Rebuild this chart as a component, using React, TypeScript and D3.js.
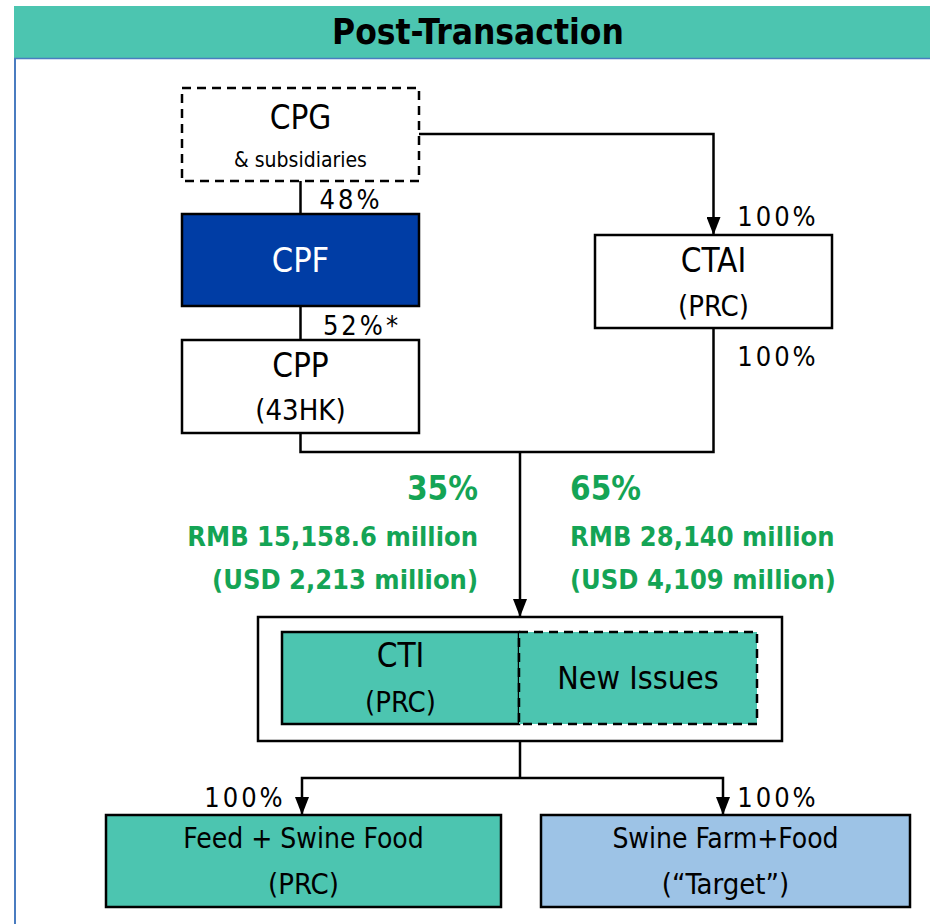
import React, { useEffect, useRef } from 'react';
import * as d3 from 'd3';

// entities (id, main label, sub label)
const boxIds = ['cpg', 'cpf', 'cpp', 'ctai', 'cti', 'newIssues', 'feed', 'target'];
const boxLabels = ['CPG', 'CPF', 'CPP', 'CTAI', 'CTI', 'New Issues', 'Feed + Swine Food', 'Swine Farm+Food'];
const boxSubLabels = ['& subsidiaries', '', '(43HK)', '(PRC)', '(PRC)', '', '(PRC)', '(\u201cTarget\u201d)'];

// ownership percentages
const stakeLabels = ['48%', '52%*', '100%', '100%', '100%', '100%'];

// consideration split
const splitShares = ['35%', '65%'];
const splitRmb = ['RMB 15,158.6 million', 'RMB 28,140 million'];
const splitUsd = ['(USD 2,213 million)', '(USD 4,109 million)'];

const title = 'Post-Transaction';

const FONT = '"DejaVu Sans Condensed", "DejaVu Sans", sans-serif';
const TEAL = '#4cc5b0';
const GREEN = '#14a455';

// layout: x, y, w, h, fill, dashed, text colour, label size
const layout = {
  cpg: { x: 182, y: 88, w: 237, h: 93, fill: '#fff', dashed: true, color: '#000', fs: 33, ty: 41, sy: 79, ss: 21 },
  cpf: { x: 182, y: 214, w: 237, h: 92, fill: '#003da5', dashed: false, color: '#fff', fs: 34, ty: 58 },
  cpp: { x: 182, y: 340, w: 237, h: 93, fill: '#fff', dashed: false, color: '#000', fs: 33, ty: 37, sy: 80, ss: 29 },
  ctai: { x: 595, y: 235, w: 237, h: 93, fill: '#fff', dashed: false, color: '#000', fs: 33, ty: 37, sy: 81, ss: 29 },
  cti: { x: 282, y: 632, w: 237, h: 92, fill: TEAL, dashed: false, color: '#000', fs: 33, ty: 35, sy: 80, ss: 29 },
  newIssues: { x: 519, y: 632, w: 238, h: 92, fill: TEAL, dashed: true, color: '#000', fs: 32, ty: 57 },
  feed: { x: 106, y: 815, w: 395, h: 92, fill: TEAL, dashed: false, color: '#000', fs: 28, ty: 33, sy: 79, ss: 29 },
  target: { x: 541, y: 815, w: 369, h: 92, fill: '#9dc3e6', dashed: false, color: '#000', fs: 28, ty: 33, sy: 79, ss: 29 },
};

const App = () => {
  const svgRef = useRef();

  useEffect(() => {
    const svg = d3.select(svgRef.current);
    svg.selectAll('*').remove();

    const defs = svg.append('defs');
    defs.append('marker')
      .attr('id', 'arr')
      .attr('viewBox', '0 0 18 14')
      .attr('refX', 18)
      .attr('refY', 7)
      .attr('markerWidth', 18)
      .attr('markerHeight', 14)
      .attr('markerUnits', 'userSpaceOnUse')
      .attr('orient', 'auto')
      .append('path')
      .attr('d', 'M0,0 L18,7 L0,14 Z')
      .attr('fill', '#000');

    // title bar
    svg.append('rect').attr('x', 14).attr('y', 6).attr('width', 916).attr('height', 52).attr('fill', TEAL);
    svg.append('text')
      .attr('x', 478).attr('y', 44)
      .attr('text-anchor', 'middle')
      .attr('font-family', FONT).attr('font-weight', 'bold').attr('font-size', 35)
      .attr('fill', '#000')
      .text(title);
    svg.append('line').attr('x1', 14).attr('x2', 930).attr('y1', 58.5).attr('y2', 58.5)
      .attr('stroke', '#4a7cc0').attr('stroke-width', 1.5);
    svg.append('line').attr('x1', 15).attr('x2', 15).attr('y1', 58).attr('y2', 924)
      .attr('stroke', '#4a7cc0').attr('stroke-width', 2);

    const g = svg.append('g');
    const line = d3.line();
    const conn = (pts, arrow) => {
      g.append('path')
        .attr('d', line(pts))
        .attr('fill', 'none')
        .attr('stroke', '#000')
        .attr('stroke-width', 2.5)
        .attr('marker-end', arrow ? 'url(#arr)' : null);
    };
    const L = layout;
    const cx = (b) => b.x + b.w / 2;

    // connectors
    conn([[cx(L.cpg), L.cpg.y + L.cpg.h], [cx(L.cpf), L.cpf.y]], false);
    conn([[cx(L.cpf), L.cpf.y + L.cpf.h], [cx(L.cpp), L.cpp.y]], false);
    conn([[L.cpg.x + L.cpg.w, 134], [cx(L.ctai), 134], [cx(L.ctai), L.ctai.y]], true);
    const joinY = 452;
    const midX = 520;
    conn([[cx(L.cpp), L.cpp.y + L.cpp.h], [cx(L.cpp), joinY], [midX, joinY]], false);
    conn([[cx(L.ctai), L.ctai.y + L.ctai.h], [cx(L.ctai), joinY], [midX, joinY]], false);
    conn([[midX, joinY], [midX, 617]], true);
    const forkY = 778;
    conn([[midX, 741], [midX, forkY]], false);
    conn([[midX, forkY], [302, forkY], [302, L.feed.y]], true);
    conn([[midX, forkY], [723, forkY], [723, L.target.y]], true);

    // outer holder box
    g.append('rect').attr('x', 258).attr('y', 617).attr('width', 524).attr('height', 124)
      .attr('fill', '#fff').attr('stroke', '#000').attr('stroke-width', 2.5);

    // boxes
    boxIds.forEach((id, i) => {
      const b = L[id];
      g.append('rect')
        .attr('x', b.x).attr('y', b.y).attr('width', b.w).attr('height', b.h)
        .attr('fill', b.fill)
        .attr('stroke', '#000')
        .attr('stroke-width', 2.5)
        .attr('stroke-dasharray', b.dashed ? '9,6' : null);
      const sub = boxSubLabels[i];
      const t = g.append('g').attr('font-family', FONT).attr('fill', b.color).attr('text-anchor', 'middle');
      t.append('text').attr('x', cx(b)).attr('y', b.y + b.ty).attr('font-size', b.fs).text(boxLabels[i]);
      if (sub) {
        t.append('text').attr('x', cx(b)).attr('y', b.y + b.sy).attr('font-size', b.ss).text(sub);
      }
    });

    // stake labels
    const stakePos = [[351, 209], [362, 335], [778, 226], [778, 366], [245, 807], [778, 807]];
    stakeLabels.forEach((s, i) => {
      const p = stakePos[i];
      g.append('text')
        .attr('x', p[0]).attr('y', p[1])
        .attr('text-anchor', 'middle')
        .attr('font-family', FONT).attr('font-size', 27)
        .attr('letter-spacing', 3)
        .attr('fill', '#000')
        .text(s);
    });

    // consideration text
    const sides = [{ x: 478, anchor: 'end' }, { x: 570, anchor: 'start' }];
    sides.forEach((s, i) => {
      const t = g.append('g').attr('font-family', FONT).attr('fill', GREEN).attr('font-weight', 'bold').attr('text-anchor', s.anchor);
      t.append('text').attr('x', s.x).attr('y', 500).attr('font-size', 33).text(splitShares[i]);
      t.append('text').attr('x', s.x).attr('y', 546).attr('font-size', 27).text(splitRmb[i]);
      t.append('text').attr('x', s.x).attr('y', 589).attr('font-size', 27).text(splitUsd[i]);
    });
  }, []);

  return (
    <svg ref={svgRef} width={930} height={924} style={{ position: 'absolute', left: 0, top: 0, background: '#fff' }}></svg>
  );
};

export default App;
